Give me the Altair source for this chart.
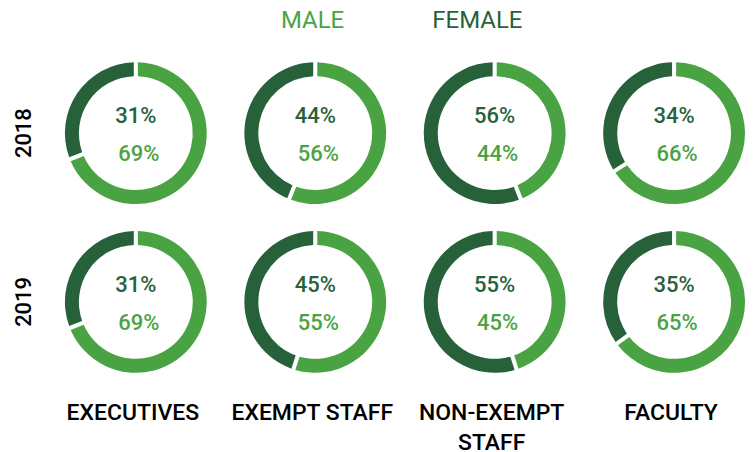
import math
import altair as alt
import pandas as pd

categories = ["EXECUTIVES", "EXEMPT STAFF", "NON-EXEMPT STAFF", "FACULTY"]
category_labels = ["EXECUTIVES", "EXEMPT STAFF", "NON-EXEMPT\nSTAFF", "FACULTY"]
years = ["2018", "2019"]
male_2018 = [69, 56, 44, 66]
female_2018 = [31, 44, 56, 34]
male_2019 = [69, 55, 45, 65]
female_2019 = [31, 45, 55, 35]
legend_labels = ["MALE", "FEMALE"]

LIGHT = "#4AA342"
DARK = "#27613A"
FONT = "Roboto"

male = {"2018": male_2018, "2019": male_2019}
female = {"2018": female_2018, "2019": female_2019}

rows = []
for y in years:
    for i, c in enumerate(categories):
        m = male[y][i]
        f = female[y][i]
        rows.append(dict(year=y, category=c, gender="Male", pct=m, start=0, end=m,
                         label=f"{m}%"))
        rows.append(dict(year=y, category=c, gender="Female", pct=f, start=m, end=m + f,
                         label=f"{f}%"))
df = pd.DataFrame(rows)

lab_df = pd.DataFrame({"category": categories, "label": category_labels})
year_df = pd.DataFrame({"year": years})

xs = alt.Scale(type="point", domain=categories, range=[128, 667], padding=0)
ys = alt.Scale(type="point", domain=years, range=[125, 294], padding=0)
cs = alt.Scale(domain=["Male", "Female"], range=[LIGHT, DARK])

X = alt.X("category:N", scale=xs, axis=None)
Y = alt.Y("year:N", scale=ys, axis=None)

base = alt.Chart(df)

arcs = base.mark_arc(outerRadius=71, innerRadius=57, padAngle=0.045).encode(
    x=X, y=Y,
    theta=alt.Theta("start:Q", stack=None,
                    scale=alt.Scale(domain=[0, 100], range=[0, 2 * math.pi])),
    theta2="end:Q",
    color=alt.Color("gender:N", scale=cs, legend=None),
)

fem_text = base.transform_filter("datum.gender == 'Female'").mark_text(
    font=FONT, fontSize=22, fontWeight=500, dy=-17, baseline="middle"
).encode(x=X, y=Y, text="label:N", color=alt.Color("gender:N", scale=cs, legend=None))

male_text = base.transform_filter("datum.gender == 'Male'").mark_text(
    font=FONT, fontSize=22, fontWeight=500, dy=21, dx=3, baseline="middle"
).encode(x=X, y=Y, text="label:N", color=alt.Color("gender:N", scale=cs, legend=None))

cat_text = alt.Chart(lab_df).mark_text(
    font=FONT, fontSize=23, fontWeight=500, baseline="alphabetic", lineBreak="\n",
    lineHeight=30, color="black", dx=-3
).encode(x=X, y=alt.value(412), text="label:N")

year_text = alt.Chart(year_df).mark_text(
    font=FONT, fontSize=22, angle=270, baseline="middle", color="black", fontWeight=500
).encode(x=alt.value(16), y=Y, text="year:N")

male_leg = alt.Chart(pd.DataFrame({"t": [legend_labels[0]]})).mark_text(
    font=FONT, fontSize=24, baseline="middle", color=LIGHT
).encode(x=alt.value(305), y=alt.value(13), text="t:N")

fem_leg = alt.Chart(pd.DataFrame({"t": [legend_labels[1]]})).mark_text(
    font=FONT, fontSize=24, baseline="middle", color=DARK
).encode(x=alt.value(470), y=alt.value(13), text="t:N")

chart = alt.layer(arcs, fem_text, male_text, cat_text, year_text, male_leg, fem_leg).properties(
    width=737, height=436, padding=0
).configure_view(stroke=None)

chart.save("out.html", embed_options={"renderer": "svg", "actions": False})
